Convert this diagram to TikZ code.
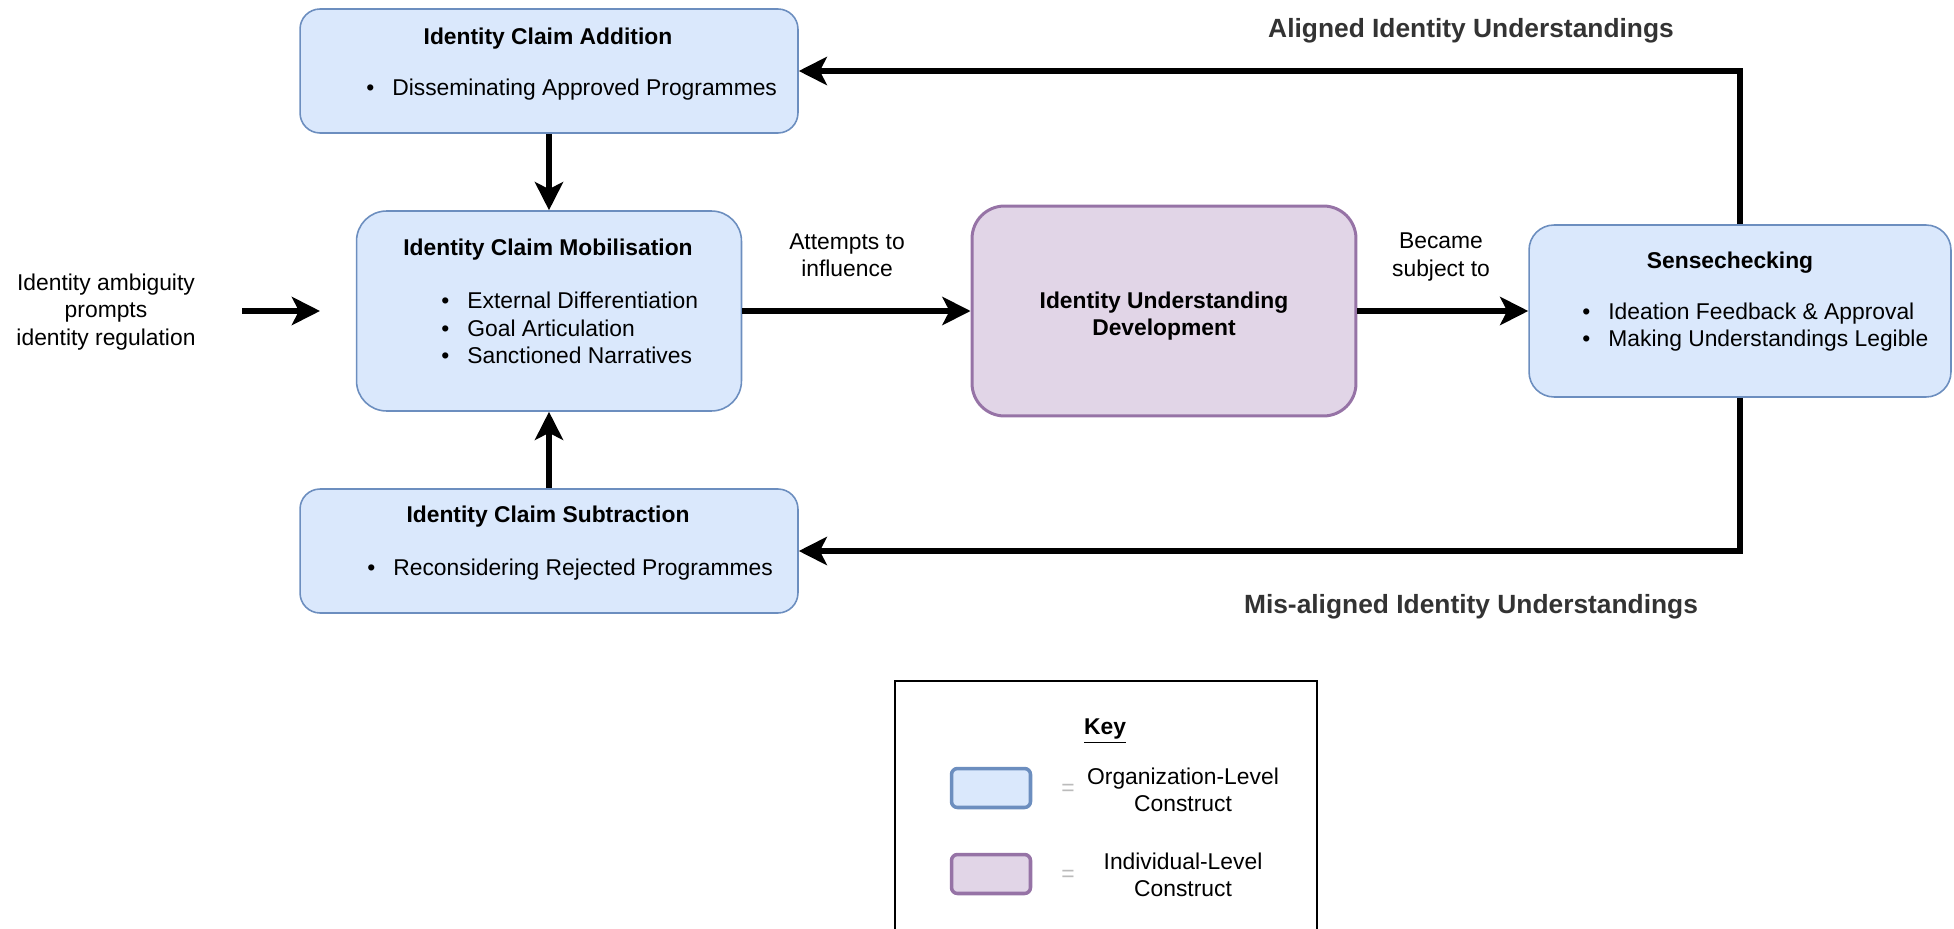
\documentclass[tikz,border=0pt]{standalone}
\usepackage{fontspec}
\setmainfont{Liberation Sans}
\usepackage{tikz}
\usetikzlibrary{arrows.meta, positioning}

\definecolor{orgfill}{HTML}{DAE8FC}
\definecolor{orgline}{HTML}{6C8EBF}
\definecolor{indfill}{HTML}{E1D5E7}
\definecolor{indline}{HTML}{9673A6}
\definecolor{headgray}{HTML}{333333}
\definecolor{eqgray}{HTML}{BBBBBB}

\newcommand{\itm}[1]{\makebox[0.52cm][l]{\textbullet}#1}

\begin{document}
\begin{tikzpicture}[x=0.02cm, y=-0.02cm, font=\fontsize{13}{15.5}\selectfont,
    orgbox/.style={draw=orgline, fill=orgfill, line width=0.9pt},
    indbox/.style={draw=indline, fill=indfill, line width=1.7pt},
    title/.style={font=\fontsize{13}{15.5}\selectfont\bfseries},
    items/.style={anchor=west, align=left, inner sep=0pt},
    loophead/.style={font=\fontsize{15}{18}\selectfont\bfseries, text=headgray},
    arr/.style={-{Stealth[length=16pt, width=16pt, inset=4pt]}, line width=3.2pt}]
    \useasboundingbox (0,0) rectangle (1954,929);
    % organization-level boxes
    \node[orgbox, rounded corners=0.4cm, minimum width=9.96cm, minimum height=2.48cm] (add) at (549,71) {};
    \node[orgbox, rounded corners=0.6cm, minimum width=7.7cm, minimum height=4cm] (mob) at (549,311) {};
    \node[orgbox, rounded corners=0.4cm, minimum width=9.96cm, minimum height=2.48cm] (sub) at (549,551) {};
    \node[orgbox, rounded corners=0.5cm, minimum width=8.44cm, minimum height=3.44cm] (sense) at (1740,311) {};
    % individual-level box
    \node[indbox, rounded corners=0.65cm, minimum width=7.68cm, minimum height=4.2cm] (dev) at (1164,311) {};
    % box texts
    \node[title] (addtitle) at (548,39) {Identity Claim Addition};
    \node[items] (addlist) at (366,90) {\itm{Disseminating Approved Programmes}};
    \node[title] (mobtitle) at (548,250) {Identity Claim Mobilisation};
    \node[items] (moblist) at (441,328) {\itm{External Differentiation}\\\itm{Goal Articulation}\\\itm{Sanctioned Narratives}};
    \node[title] (subtitle) at (548,517) {Identity Claim Subtraction};
    \node[items] (sublist) at (367,570) {\itm{Reconsidering Rejected Programmes}};
    \node[title] (sensetitle) at (1730,263) {Sensechecking};
    \node[items] (senselist) at (1582,327) {\itm{Ideation Feedback \& Approval}\\\itm{Making Understandings Legible}};
    \node[title, align=center] (devtext) at (1164,316) {Identity Understanding\\Development};
    % free texts
    \node[align=center] (ambig) at (106,312) {Identity ambiguity\\prompts\\identity regulation};
    \node[align=center] (attempts) at (847,255) {Attempts to\\influence};
    \node[align=center] (became) at (1441,257) {Became\\subject to};
    \node[loophead] (aligned) at (1471,31) {Aligned Identity Understandings};
    \node[loophead] (misaligned) at (1471,607) {Mis-aligned Identity Understandings};
    % arrows
    \coordinate (ambstart) at (242,311);
    \coordinate (ambend) at (320,311);
    \draw[arr] (ambstart) -- (ambend);
    \draw[arr] (add) -- (mob);
    \draw[arr] (sub) -- (mob);
    \draw[arr] (mob) -- (dev);
    \draw[arr] (dev) -- (sense);
    \draw[arr] (sense.north) |- (add.east);
    \draw[arr] (sense.south) |- (sub.east);
    % key
    \node[draw, line width=1.1pt, minimum width=8.44cm, minimum height=5.6cm] (keybox) at (1106,821) {};
    \node[title] (keytitle) at (1105,731) {\underline{Key}};
    \node[orgbox, line width=2pt, rounded corners=0.12cm, minimum width=1.58cm, minimum height=0.78cm] (keyorg) at (991,788) {};
    \node[text=eqgray] (eqorg) at (1068,790) {=};
    \node[align=center] (orgtext) at (1183,790) {Organization-Level\\Construct};
    \node[indbox, line width=2pt, rounded corners=0.12cm, minimum width=1.58cm, minimum height=0.78cm] (keyind) at (991,874) {};
    \node[text=eqgray] (eqind) at (1068,876) {=};
    \node[align=center] (indtext) at (1183,875) {Individual-Level\\Construct};
\end{tikzpicture}
\end{document}
